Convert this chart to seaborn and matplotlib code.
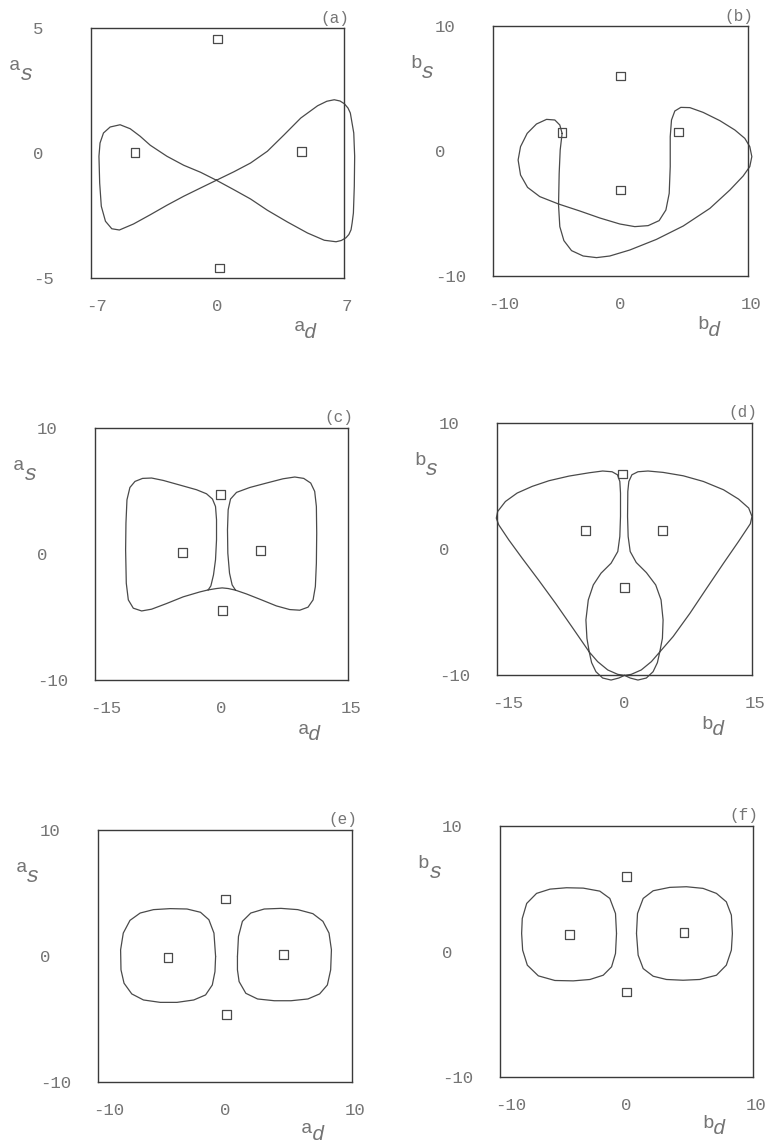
import matplotlib
matplotlib.use("Agg")
import matplotlib.pyplot as plt
import matplotlib.transforms as mtransforms
import pandas as pd
import seaborn as sns

# ---------------------------------------------------------------------------
# Phase-plane orbits (d = difference coordinate, s = sum coordinate)
# ---------------------------------------------------------------------------

# (a) a_d vs a_s : figure-eight orbit
a_orbit = [(-0.06, -1.09), (-0.94, -0.77), (-1.87, -0.49), (-2.80, -0.13), (-3.72, 0.31),
           (-4.28, 0.67), (-4.83, 0.97), (-5.39, 1.13), (-5.94, 1.04), (-6.31, 0.80),
           (-6.50, 0.40), (-6.56, -0.13), (-6.52, -1.20), (-6.43, -2.13), (-6.20, -2.73),
           (-5.85, -3.03), (-5.43, -3.08), (-4.65, -2.84), (-3.72, -2.47), (-2.80, -2.09),
           (-1.87, -1.73), (-0.94, -1.40), (-0.06, -1.09), (0.91, -0.75), (1.83, -0.40),
           (2.76, 0.07), (3.69, 0.73), (4.61, 1.40), (5.54, 1.89), (6.05, 2.07),
           (6.46, 2.13), (6.78, 2.08), (7.02, 1.97), (7.22, 1.80), (7.35, 1.60),
           (7.54, 0.80), (7.59, -0.13), (7.57, -1.33), (7.52, -2.40), (7.45, -2.80),
           (7.39, -3.07), (7.27, -3.26), (7.11, -3.39), (6.85, -3.50), (6.56, -3.55),
           (5.91, -3.49), (4.98, -3.20), (3.87, -2.76), (2.76, -2.29), (1.83, -1.84),
           (0.91, -1.47), (-0.06, -1.09)]
a_fixed = [(0.0, 4.56), (-4.56, 0.03), (4.65, 0.07), (0.13, -4.60)]

# (b) b_d vs b_s
b_orbit = [(-4.58, 1.41), (-4.73, 0.08), (-4.81, -1.79), (-4.86, -4.32), (-4.76, -6.05),
           (-4.44, -7.17), (-3.84, -7.97), (-2.93, -8.40), (-1.88, -8.53), (-0.84, -8.40),
           (0.73, -7.92), (2.82, -7.07), (4.92, -6.00), (7.01, -4.59), (8.58, -3.12),
           (9.62, -2.00), (10.14, -1.25), (10.30, -0.45), (10.14, 0.35), (9.75, 1.01),
           (8.97, 1.68), (7.79, 2.43), (6.48, 3.09), (5.44, 3.47), (4.73, 3.49),
           (4.26, 3.20), (4.00, 2.48), (3.90, 1.15), (3.90, -1.25), (3.82, -3.39),
           (3.56, -4.72), (3.03, -5.57), (2.17, -5.97), (1.12, -6.05), (-0.05, -5.84),
           (-1.62, -5.36), (-3.19, -4.80), (-4.86, -4.24), (-6.33, -3.65), (-7.29, -2.91),
           (-7.84, -1.92), (-8.03, -0.72), (-7.84, 0.35), (-7.32, 1.41), (-6.59, 2.16),
           (-5.80, 2.53), (-5.15, 2.48), (-4.76, 2.08), (-4.58, 1.41)]
b_fixed = [(0.0, 6.0), (-4.58, 1.47), (4.55, 1.52), (0.0, -3.12)]

# (c) a_d vs a_s : bow-tie orbit
c_orbit = [(-1.58, -2.85), (-2.57, -3.01), (-4.54, -3.40), (-6.51, -3.93), (-8.29, -4.38),
           (-9.47, -4.52), (-10.46, -4.30), (-11.05, -3.64), (-11.29, -2.32), (-11.37, 0.33),
           (-11.33, 2.45), (-11.21, 4.30), (-10.86, 5.28), (-10.26, 5.76), (-9.36, 6.00),
           (-8.29, 6.03), (-6.91, 5.84), (-4.93, 5.47), (-2.96, 5.10), (-1.78, 4.78),
           (-1.07, 4.36), (-0.71, 3.77), (-0.59, 2.72), (-0.59, 1.13), (-0.71, -0.46),
           (-0.95, -1.66), (-1.26, -2.53), (-1.58, -2.85), (-0.59, -2.74), (0.08, -2.69),
           (0.79, -2.74), (1.66, -2.87), (1.26, -2.45), (0.95, -1.52), (0.75, 0.07),
           (0.71, 1.92), (0.79, 3.51), (1.07, 4.36), (1.78, 4.89), (3.36, 5.28),
           (5.33, 5.63), (7.30, 5.97), (8.69, 6.11), (9.75, 6.00), (10.58, 5.63),
           (11.05, 4.97), (11.25, 3.77), (11.29, 1.66), (11.25, -0.73), (11.13, -2.58),
           (10.86, -3.64), (10.26, -4.22), (9.28, -4.46), (8.09, -4.41), (6.51, -4.12),
           (4.74, -3.64), (2.96, -3.17), (1.66, -2.87)]
c_fixed = [(-0.08, 4.75), (-4.58, 0.15), (4.66, 0.25), (0.12, -4.49)]

# (d) b_d vs b_s : two wings joined at the bottom
d_orbit = [(0.0, -10.03), (-0.79, -9.95), (-1.97, -9.60), (-3.16, -8.94), (-4.15, -8.17),
           (-6.12, -6.24), (-8.09, -4.33), (-10.07, -2.50), (-12.04, -0.73), (-13.62, 0.73),
           (-14.80, 1.92), (-15.08, 2.45), (-14.92, 2.98), (-14.01, 3.77), (-12.63, 4.44),
           (-10.86, 4.97), (-8.88, 5.42), (-6.51, 5.79), (-4.15, 6.05), (-2.57, 6.19),
           (-1.46, 6.13), (-0.83, 5.89), (-0.55, 5.36), (-0.47, 4.44), (-0.47, 2.58),
           (-0.55, 0.99), (-0.79, -0.20), (-1.58, -1.13), (-2.76, -1.92), (-3.67, -2.85),
           (-4.26, -4.04), (-4.54, -5.63), (-4.42, -7.09), (-4.15, -8.17), (-3.87, -9.02),
           (-3.36, -9.74), (-2.57, -10.24), (-1.58, -10.40), (-0.67, -10.24), (0.0, -10.03),
           (0.67, -10.24), (1.58, -10.40), (2.57, -10.24), (3.36, -9.74), (3.87, -9.02),
           (4.15, -8.17), (4.46, -7.09), (4.54, -5.63), (4.30, -4.04), (3.67, -2.85),
           (2.57, -1.87), (1.38, -1.07), (0.67, -0.20), (0.43, 0.99), (0.36, 2.58),
           (0.39, 4.57), (0.51, 5.36), (0.87, 5.89), (1.58, 6.13), (2.76, 6.19),
           (4.54, 6.08), (6.91, 5.81), (9.28, 5.36), (11.65, 4.70), (13.42, 3.96),
           (14.61, 3.25), (15.00, 2.58), (14.80, 2.00), (13.42, 0.60), (11.65, -1.13),
           (9.67, -3.11), (7.70, -5.10), (5.72, -6.95), (4.15, -8.17), (3.16, -8.94),
           (1.97, -9.60), (0.79, -9.95), (0.0, -10.03)]
d_fixed = [(-0.20, 5.95), (-4.62, 1.44), (4.46, 1.47), (-0.04, -3.06)]

# (e) a_d vs a_s : two separate loops
e_left = [(-0.74, -0.04), (-0.87, 1.82), (-1.27, 2.88), (-1.93, 3.47), (-2.99, 3.73),
          (-4.31, 3.76), (-5.63, 3.68), (-6.68, 3.41), (-7.48, 2.83), (-8.01, 1.82),
          (-8.22, 0.49), (-8.19, -1.10), (-7.95, -2.16), (-7.34, -3.01), (-6.42, -3.49),
          (-5.10, -3.68), (-3.78, -3.68), (-2.46, -3.49), (-1.53, -3.09), (-1.00, -2.30),
          (-0.79, -1.24), (-0.74, -0.04)]
e_right = [(0.98, -0.04), (1.06, 1.55), (1.37, 2.75), (2.03, 3.41), (3.09, 3.73),
           (4.41, 3.78), (5.73, 3.68), (6.92, 3.36), (7.71, 2.75), (8.19, 1.82),
           (8.38, 0.49), (8.32, -1.10), (8.06, -2.30), (7.45, -3.01), (6.53, -3.41),
           (5.20, -3.55), (3.88, -3.55), (2.56, -3.41), (1.64, -2.96), (1.11, -2.03),
           (0.98, -1.10), (0.98, -0.04)]
e_fixed = [(0.05, 4.53), (-4.49, -0.12), (4.62, 0.09), (0.10, -4.63)]

# (f) b_d vs b_s : two separate loops
f_left = [(-0.79, 1.44), (-0.87, 3.03), (-1.32, 4.23), (-2.11, 4.81), (-3.42, 5.05),
          (-4.74, 5.08), (-6.05, 4.97), (-7.11, 4.63), (-7.89, 3.83), (-8.24, 2.63),
          (-8.29, 1.44), (-8.21, 0.11), (-7.84, -1.09), (-6.97, -1.94), (-5.66, -2.31),
          (-4.21, -2.34), (-2.89, -2.23), (-1.84, -1.89), (-1.18, -1.22), (-0.87, -0.16),
          (-0.79, 1.44)]
f_right = [(0.79, 1.44), (0.87, 3.03), (1.32, 4.23), (2.11, 4.84), (3.42, 5.11),
           (4.74, 5.16), (6.05, 5.03), (7.11, 4.63), (7.89, 3.96), (8.29, 2.90),
           (8.37, 1.44), (8.29, 0.11), (7.89, -1.09), (7.11, -1.89), (5.79, -2.23),
           (4.47, -2.29), (3.16, -2.23), (2.11, -1.97), (1.32, -1.36), (0.92, -0.29),
           (0.79, 1.44)]
f_fixed = [(0.0, 5.96), (-4.53, 1.38), (4.55, 1.49), (0.0, -3.22)]

panel_tags = ["(a)", "(b)", "(c)", "(d)", "(e)", "(f)"]
panel_vars = ["a", "b", "a", "b", "a", "b"]
panel_xlims = [(-7, 7), (-10, 10), (-15, 15), (-15, 15), (-10, 10), (-10, 10)]
panel_ylims = [(-5, 5), (-10, 10), (-10, 10), (-10, 10), (-10, 10), (-10, 10)]
panel_orbits = [[a_orbit], [b_orbit], [c_orbit], [d_orbit], [e_left, e_right], [f_left, f_right]]
panel_fixed = [a_fixed, b_fixed, c_fixed, d_fixed, e_fixed, f_fixed]

# ---------------------------------------------------------------------------
# Figure layout (pixel boxes: left, top, right, bottom)
# ---------------------------------------------------------------------------
W, H = 771, 1144
boxes = [(91, 28, 344, 278), (493, 26, 748, 276),
         (95, 428, 348, 680), (497, 423, 752, 675),
         (98, 830, 352, 1082), (500, 826, 753, 1077)]

LINE = "#4a4a4a"
TEXT = "#757575"
FRAME = "#3a3a3a"

sns.set_theme(style="white")
plt.rcParams["font.family"] = ["Liberation Mono", "DejaVu Sans Mono"]

fig = plt.figure(figsize=(W / 100, H / 100), dpi=100)
fig.patch.set_facecolor("white")

for i in range(6):
    x0, y0, x1, y1 = boxes[i]
    ax = fig.add_axes([x0 / W, 1 - y1 / H, (x1 - x0) / W, (y1 - y0) / H])
    ax.set_facecolor("white")

    for orbit in panel_orbits[i]:
        df = pd.DataFrame(orbit, columns=["d", "s"])
        sns.lineplot(data=df, x="d", y="s", sort=False, estimator=None, ax=ax,
                     color=LINE, linewidth=0.9, clip_on=False)

    fx = pd.DataFrame(panel_fixed[i], columns=["d", "s"])
    sns.scatterplot(data=fx, x="d", y="s", marker="s", s=40, facecolor="none",
                    edgecolor=LINE, linewidth=0.9, ax=ax, clip_on=False, zorder=3)

    xlo, xhi = panel_xlims[i]
    ylo, yhi = panel_ylims[i]
    ax.set_xlim(xlo, xhi)
    ax.set_ylim(ylo, yhi)
    ax.set_xlabel("")
    ax.set_ylabel("")

    ax.set_xticks([xlo, 0, xhi])
    ax.set_xticklabels([str(xlo), "0", str(xhi)])
    ax.set_yticks([ylo, 0, yhi])
    ax.set_yticklabels([str(ylo), "0", str(yhi)])
    ax.tick_params(axis="x", length=0, pad=15, labelsize=12.5, labelcolor=TEXT)
    ax.tick_params(axis="y", length=0, pad=42, labelsize=12.5, labelcolor=TEXT)
    for lab in ax.get_yticklabels():
        lab.set_horizontalalignment("left")
    xl = ax.get_xticklabels()
    xl[0].set_horizontalalignment("left")
    xl[0].set_transform(xl[0].get_transform() +
                        mtransforms.ScaledTranslation(-5 / 100, 0, fig.dpi_scale_trans))
    xl[2].set_transform(xl[2].get_transform() +
                        mtransforms.ScaledTranslation(3 / 100, 0, fig.dpi_scale_trans))

    for sp in ax.spines.values():
        sp.set_visible(True)
        sp.set_color(FRAME)
        sp.set_linewidth(1.0)

    v = panel_vars[i]
    # vertical-axis name (sum coordinate)
    ax.text(-0.325, 0.85, v, transform=ax.transAxes, fontsize=14, color=TEXT,
            ha="left", va="center")
    ax.text(-0.283, 0.815, "s", transform=ax.transAxes, fontsize=16, color=TEXT,
            style="italic", ha="left", va="center")
    # horizontal-axis name (difference coordinate)
    yb = -0.195 if i < 4 else -0.185
    ax.text(0.80, yb, v, transform=ax.transAxes, fontsize=14, color=TEXT,
            ha="left", va="center")
    ax.text(0.843, yb - 0.022, "d", transform=ax.transAxes, fontsize=15, color=TEXT,
            style="italic", ha="left", va="center")
    # panel tag
    ax.text(1.02, 1.04, panel_tags[i], transform=ax.transAxes, fontsize=11.5,
            color=TEXT, ha="right", va="center")

fig.savefig("out.png", dpi=100, facecolor="white")
